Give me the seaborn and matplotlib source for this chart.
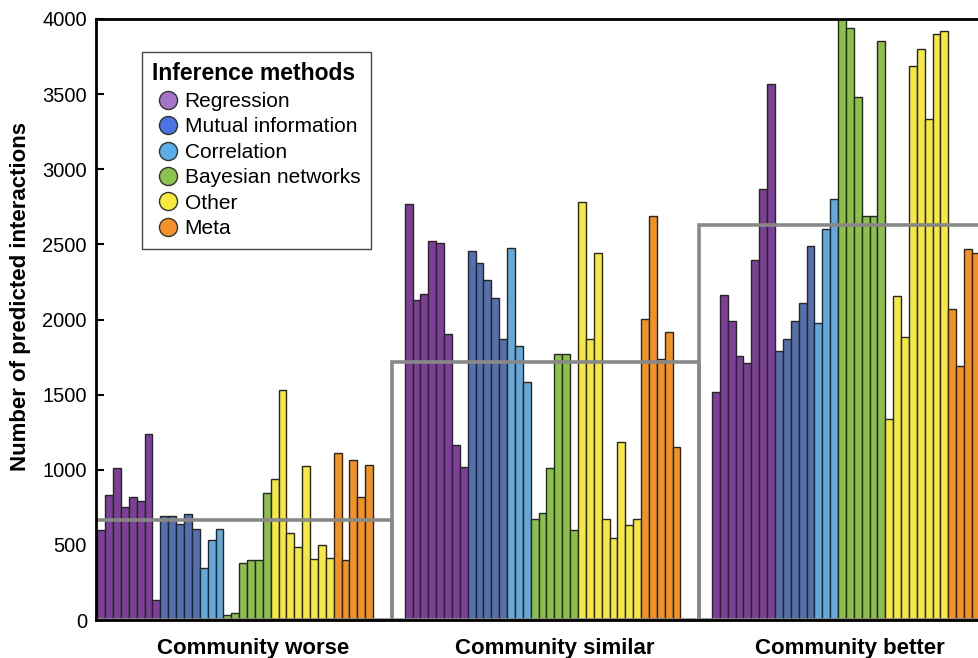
import numpy as np
import pandas as pd
import matplotlib
matplotlib.use("Agg")
import matplotlib.pyplot as plt
from matplotlib.lines import Line2D
import seaborn as sns

# ---------------- data ----------------
groups = ["Community worse", "Community similar", "Community better"]
methods = ["Regression", "Mutual information", "Correlation",
           "Bayesian networks", "Other", "Meta"]
method_counts = [8, 5, 3, 6, 8, 5]

worse = [600, 830, 1014, 752, 819, 794, 1236, 133,
         692, 692, 639, 708, 606,
         348, 535, 603,
         31, 49, 377, 399, 399, 848,
         936, 1531, 577, 484, 1027, 404, 499, 415,
         1114, 402, 1065, 816, 1029]
similar = [2769, 2130, 2168, 2522, 2507, 1906, 1167, 1018,
           2456, 2379, 2263, 2146, 1868,
           2473, 1821, 1586,
           672, 714, 1009, 1770, 1770, 601,
           2784, 1870, 2443, 675, 548, 1185, 632, 675,
           2006, 2691, 1740, 1919, 1150]
better = [1515, 2161, 1987, 1760, 1710, 2393, 2870, 3565,
          1792, 1871, 1987, 2108, 2490,
          1976, 2603, 2804,
          4400, 3937, 3478, 2688, 2688, 3853,
          1341, 2155, 1881, 3689, 3802, 3333, 3897, 3921,
          2070, 1693, 2469, 2440, 2700]
group_values = [worse, similar, better]

yticks = [0, 500, 1000, 1500, 2000, 2500, 3000, 3500, 4000]

bar_colors = ["#7E3F98", "#5570AF", "#63A9DB", "#8DBF4B", "#F5E842", "#F29222"]
legend_colors = ["#A574C9", "#4C73E2", "#5CAEE7", "#8CC24E", "#F7EA3C", "#F5922A"]

# ---------------- layout helpers ----------------
slots_per_group = 39
rows = []
for g, (gname, vals) in enumerate(zip(groups, group_values)):
    labels = [m for m, c in zip(methods, method_counts) for _ in range(c)]
    for i, (v, m) in enumerate(zip(vals, labels)):
        rows.append({"group": gname, "gidx": g, "slot": g * slots_per_group + i,
                     "value": v, "method": m})
df = pd.DataFrame(rows)

sns.set_style("white")
plt.rcParams["font.family"] = ["Liberation Sans", "DejaVu Sans"]
plt.rcParams["text.color"] = "black"
plt.rcParams["axes.labelcolor"] = "black"
plt.rcParams["xtick.color"] = "black"
plt.rcParams["ytick.color"] = "black"

W, H = 979, 658
fig = plt.figure(figsize=(W / 100, H / 100), dpi=100)
ax_w = 896
ax = fig.add_axes([96 / W, 38 / H, ax_w / W, 601 / H])

sns.barplot(data=df, x="slot", y="value", hue="method", hue_order=methods,
            palette=dict(zip(methods, bar_colors)), native_scale=True,
            dodge=False, width=1.0, edgecolor="#262626", linewidth=1.0,
            saturation=1, errorbar=None, legend=False, ax=ax)

# group mean outlines
means = df.groupby("gidx")["value"].mean().values
offset = 2.1
ax.bar([g * slots_per_group - offset for g in range(3)], means,
       width=slots_per_group, align="edge", fill=False,
       edgecolor="#888888", linewidth=2.6, zorder=5)

ax.set_xlim(-0.665, 113.04)
ax.set_ylim(0, 4000)
ax.set_yticks(yticks)
ax.set_yticklabels([str(t) for t in yticks], fontsize=14.5, color="black")

label_pos = [19.3, 57.6, 95.0]
ax.set_xticks(label_pos)
ax.set_xticklabels(groups, fontsize=16, fontweight="bold", color="black")
ax.tick_params(axis="x", length=0, pad=13)
ax.tick_params(axis="y", direction="in", length=6, width=1.5, pad=6.5, left=True,
               color="black")

ax.set_xlabel("")
ax.set_ylabel("Number of predicted interactions", fontsize=16, fontweight="bold",
              color="black")
ax.yaxis.set_label_coords(-0.072, 0.539)

for s in ["left", "bottom", "top"]:
    ax.spines[s].set_visible(True)
    ax.spines[s].set_color("black")
    ax.spines[s].set_linewidth(2.0)
    ax.spines[s].set_zorder(6)
ax.spines["right"].set_visible(False)

handles = [Line2D([], [], marker="o", linestyle="none", markersize=13,
                  markerfacecolor=c, markeredgecolor="#333333", markeredgewidth=1.0)
           for c in legend_colors]
leg = fig.legend(handles, methods, loc="upper left",
                 bbox_to_anchor=(142 / W, 1 - 52 / H), bbox_transform=fig.transFigure,
                 borderaxespad=0, frameon=True, fancybox=False, framealpha=1,
                 edgecolor="#444444", fontsize=15, title="Inference methods",
                 title_fontproperties={"weight": "bold", "size": 16.5},
                 alignment="left", handlelength=1.5, handletextpad=0.05,
                 labelspacing=0.31, borderpad=0.5)
leg.get_frame().set_linewidth(1.0)
leg.set_zorder(10)
for t in leg.get_texts():
    t.set_color("black")
leg.get_title().set_color("black")

fig.savefig("out.png", dpi=100)
